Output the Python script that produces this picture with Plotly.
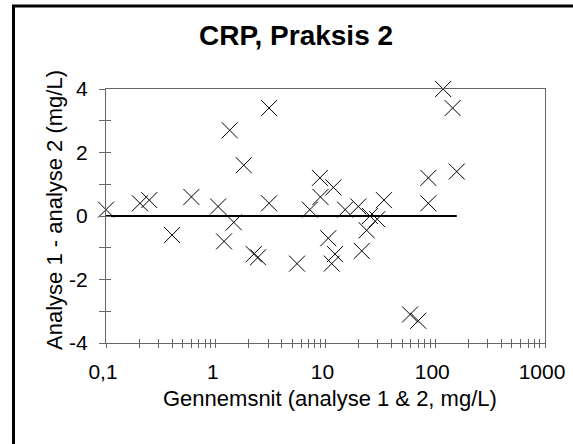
import plotly.graph_objects as go

# Data (mean of the two analyses, difference)
mean_vals = [0.1, 0.204, 0.248, 0.40, 0.60, 1.05, 1.19, 1.34, 1.46, 1.80,
             2.22, 2.43, 3.06, 3.06, 5.5, 7.2, 8.9, 9.0, 11.8, 10.6,
             11.4, 12.2, 15.1, 19.9, 25.4, 29.6, 23.7, 21.4, 34.1, 59,
             70, 86.5, 86.5, 118, 144, 157]
diff_vals = [0.2, 0.4, 0.5, -0.6, 0.6, 0.3, -0.8, 2.7, -0.2, 1.6,
             -1.2, -1.3, 3.4, 0.4, -1.5, 0.2, 1.2, 0.6, 0.9, -0.7,
             -1.5, -1.2, 0.2, 0.3, 0.0, -0.1, -0.45, -1.1, 0.5, -3.1,
             -3.3, 1.2, 0.4, 4.0, 3.4, 1.4]

x_tickvals = [0.1, 1, 10, 100, 1000]
x_ticktext = ["0,1", "1", "10", "100", "1000"]
x_minor = [m * 10 ** e for e in (-1, 0, 1, 2) for m in range(2, 10)]
y_tickvals = [-4, -2, 0, 2, 4]
y_ticktext = ["-4", "-2", "0", "2", "4"]
y_minor = [-3, -1, 1, 3]

FONT = "Liberation Sans, Arial, sans-serif"
AX = "#666666"

fig = go.Figure()
fig.add_trace(go.Scatter(
    x=[min(mean_vals), max(mean_vals)], y=[0, 0], mode="lines",
    line=dict(color="black", width=2), hoverinfo="skip"))
fig.add_trace(go.Scatter(
    x=mean_vals, y=diff_vals, mode="markers", cliponaxis=False,
    marker=dict(symbol="x-thin-open", size=16, color="black",
                line=dict(width=1, color="black"))))
# dummy trace for the overlay axes (inside half of crossing ticks)
fig.add_trace(go.Scatter(x=[1], y=[0], xaxis="x2", yaxis="y2", mode="markers",
                         marker=dict(opacity=0), hoverinfo="skip"))

common_x = dict(type="log", range=[-1, 3], showgrid=False, zeroline=False,
                tickvals=x_tickvals, automargin=False)
common_y = dict(range=[-4, 4], showgrid=False, zeroline=False,
                tickvals=y_tickvals, automargin=False)

fig.update_layout(
    width=573, height=444,
    margin=dict(l=106, r=28, t=89, b=101, pad=0, autoexpand=False),
    paper_bgcolor="white", plot_bgcolor="white",
    showlegend=False,
    xaxis=dict(**common_x, ticktext=x_ticktext, ticks="outside", ticklen=4,
               tickcolor=AX, tickwidth=1, showline=True, linecolor=AX,
               linewidth=1, mirror=True, ticklabelshift=-3,
               ticklabelstandoff=6,
               tickfont=dict(family=FONT, size=21, color="black"),
               minor=dict(tickvals=x_minor, ticks="outside", ticklen=4,
                          tickcolor=AX, tickwidth=1, showgrid=False)),
    yaxis=dict(**common_y, ticktext=y_ticktext, ticks="outside", ticklen=6,
               tickcolor=AX, tickwidth=1, showline=True, linecolor=AX,
               linewidth=1, mirror=True, ticklabelstandoff=7,
               tickfont=dict(family=FONT, size=21, color="black"),
               minor=dict(tickvals=y_minor, ticks="outside", ticklen=6,
                          tickcolor=AX, tickwidth=1, showgrid=False)),
    xaxis2=dict(**common_x, overlaying="x", anchor="y2", side="bottom",
                ticks="inside", ticklen=4, tickcolor=AX, tickwidth=1,
                showticklabels=False, showline=False,
                minor=dict(tickvals=x_minor, ticks="inside", ticklen=4,
                           tickcolor=AX, tickwidth=1, showgrid=False)),
    yaxis2=dict(**common_y, overlaying="y", anchor="x2", side="left",
                ticks="inside", ticklen=5, tickcolor=AX, tickwidth=1,
                showticklabels=False, showline=False,
                minor=dict(tickvals=y_minor, ticks="inside", ticklen=5,
                           tickcolor=AX, tickwidth=1, showgrid=False)),
    font=dict(family=FONT, color="black"),
)

fig.add_annotation(text="<b>CRP, Praksis 2</b>", xref="paper", yref="paper",
                   x=0.4323, y=1.2087, xanchor="center", yanchor="middle",
                   showarrow=False, font=dict(family=FONT, size=28, color="black"))
fig.add_annotation(text="Gennemsnit (analyse 1 &amp; 2, mg/L)", xref="paper", yref="paper",
                   x=0.510, y=-0.2177, xanchor="center", yanchor="middle",
                   showarrow=False, font=dict(family=FONT, size=22, color="black"))
fig.add_annotation(text="Analyse 1 - analyse 2 (mg/L)", xref="paper", yref="paper",
                   x=-0.1185, y=0.5236, xanchor="center", yanchor="middle",
                   textangle=-90, showarrow=False,
                   font=dict(family=FONT, size=22, color="black"))

# outer frame (left and top edges visible in the reference)
fx = (13.5 - 106) / 439
fy = 1 + (89 - 6) / 254
fig.add_shape(type="path", xref="paper", yref="paper",
              path=f"M {fx},-0.6 L {fx},{fy} L 1.2,{fy}",
              line=dict(color="black", width=3))

fig.write_html("out.html", config={"displayModeBar": False},
               post_script="document.body.style.margin='0';document.body.style.padding='0';")
